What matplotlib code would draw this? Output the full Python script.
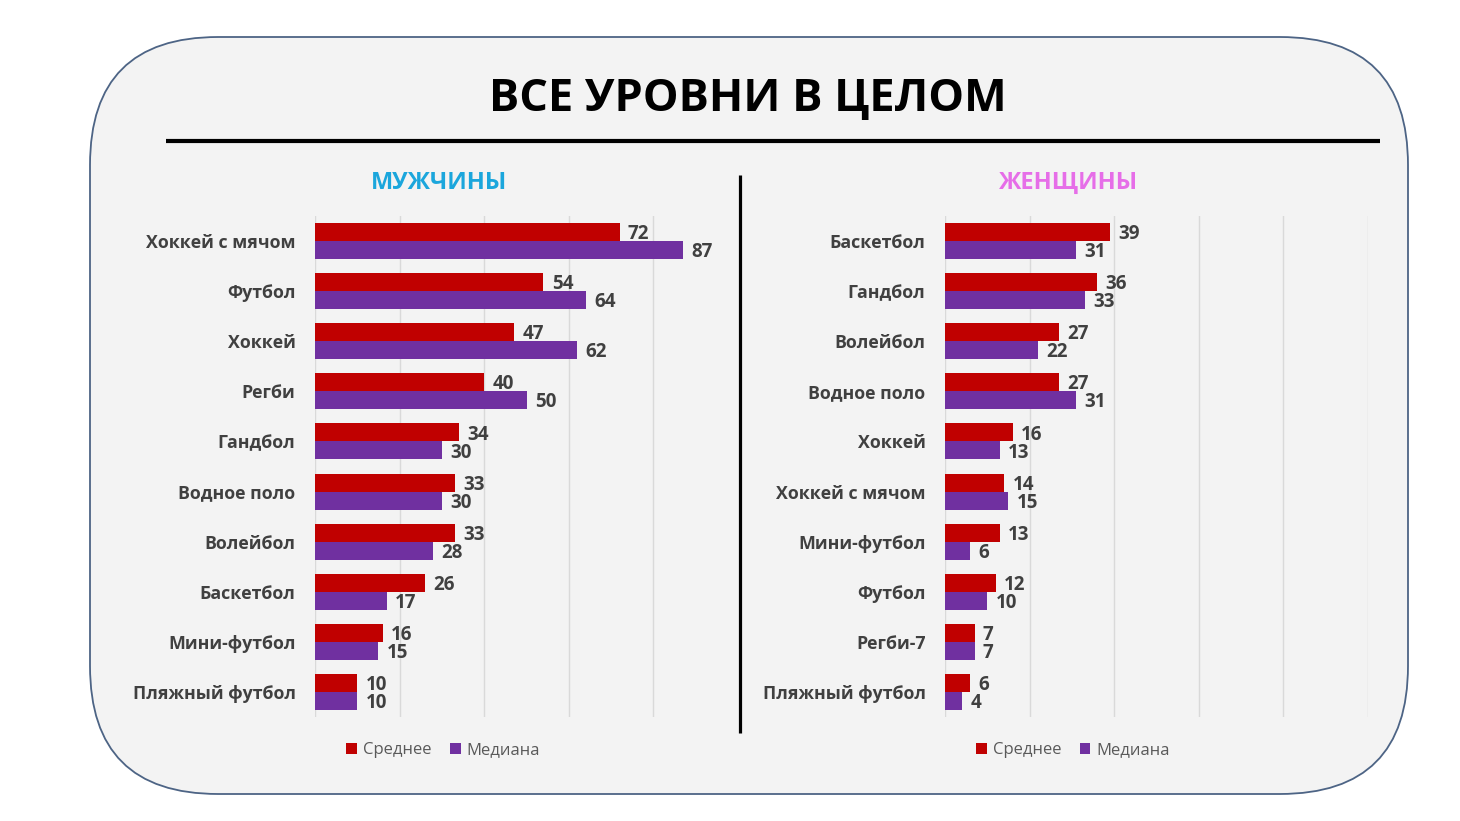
import matplotlib
matplotlib.use("Agg")
import matplotlib.pyplot as plt
from matplotlib.patches import FancyBboxPatch
import numpy as np

plt.rcParams['font.family'] = ['Open Sans', 'DejaVu Sans']

# --- data ---
men_sports = ['Хоккей с мячом', 'Футбол', 'Хоккей', 'Регби', 'Гандбол',
              'Водное поло', 'Волейбол', 'Баскетбол', 'Мини-футбол', 'Пляжный футбол']
men_mean = [72, 54, 47, 40, 34, 33, 33, 26, 16, 10]
men_median = [87, 64, 62, 50, 30, 30, 28, 17, 15, 10]

women_sports = ['Баскетбол', 'Гандбол', 'Волейбол', 'Водное поло', 'Хоккей',
                'Хоккей с мячом', 'Мини-футбол', 'Футбол', 'Регби-7', 'Пляжный футбол']
women_mean = [39, 36, 27, 27, 16, 14, 13, 12, 7, 6]
women_median = [31, 33, 22, 31, 13, 15, 6, 10, 7, 4]

series_names = ['Среднее', 'Медиана']
red = '#c00000'
purple = '#7030a0'
txt = '#404040'

W, H = 1460, 821
fig = plt.figure(figsize=(W / 100, H / 100), dpi=100)
fig.patch.set_facecolor('white')

# background canvas in pixel coords
bg = fig.add_axes([0, 0, 1, 1])
bg.set_xlim(0, W)
bg.set_ylim(H, 0)
bg.axis('off')

box = FancyBboxPatch((90, 37), 1318, 757,
                     boxstyle='round,pad=0,rounding_size=128',
                     facecolor='#f3f3f3', edgecolor='#4d6485', linewidth=1.3)
bg.add_patch(box)
bg.text(748, 99, 'ВСЕ УРОВНИ В ЦЕЛОМ', ha='center', va='center',
        fontsize=32.5, fontweight='bold', color='black')
bg.plot([166, 1380], [141, 141], color='black', lw=3, solid_capstyle='butt')
bg.plot([740, 740], [175, 733], color='black', lw=2.3, solid_capstyle='butt')
bg.text(439, 183, 'МУЖЧИНЫ', ha='center', va='center',
        fontsize=17, fontweight='bold', color='#1ba6dc')
bg.text(1069, 183, 'ЖЕНЩИНЫ', ha='center', va='center',
        fontsize=17, fontweight='bold', color='#e66ee8')


def draw_panel(left_px, sports, mean, median, ticks, legend_x):
    ax = fig.add_axes([left_px / W, 1 - 717 / H, 423 / W, 501 / H])
    ax.set_facecolor('none')
    y = np.arange(len(sports))
    h = 0.36
    ax.barh(y - h / 2, mean, height=h, color=red, label=series_names[0], zorder=3)
    ax.barh(y + h / 2, median, height=h, color=purple, label=series_names[1], zorder=3)
    for vals, off in ((mean, -h / 2), (median, h / 2)):
        for yi, v in zip(y, vals):
            ax.annotate(str(v), xy=(v, yi + off), xytext=(6, -1.5),
                        textcoords='offset points', va='center', ha='left',
                        fontsize=13.5, fontweight='bold', color=txt)
    ax.set_xlim(0, 100)
    ax.set_ylim(len(sports) - 0.5, -0.5)
    ax.set_yticks(y)
    ax.set_yticklabels(sports, fontsize=12.8, fontweight='bold', color=txt)
    ax.set_xticks(ticks)
    ax.set_xticklabels([])
    ax.tick_params(length=0, pad=14)
    ax.grid(axis='x', color='#d9d9d9', lw=1, zorder=0)
    for s in ax.spines.values():
        s.set_visible(False)
    handles, labels = ax.get_legend_handles_labels()
    fig.legend(handles, labels, loc='center', bbox_to_anchor=(legend_x / W, 1 - 750 / H),
               ncol=2, frameon=False, fontsize=12, labelcolor='#595959',
               handlelength=0.65, handleheight=0.65, handletextpad=0.35, columnspacing=1.1)
    return ax


draw_panel(315, men_sports, men_mean, men_median, [0, 20, 40, 60, 80], 443)
draw_panel(945, women_sports, women_mean, women_median, [0, 20, 40, 60, 80, 100], 1073)

fig.savefig('out.png', dpi=100)
